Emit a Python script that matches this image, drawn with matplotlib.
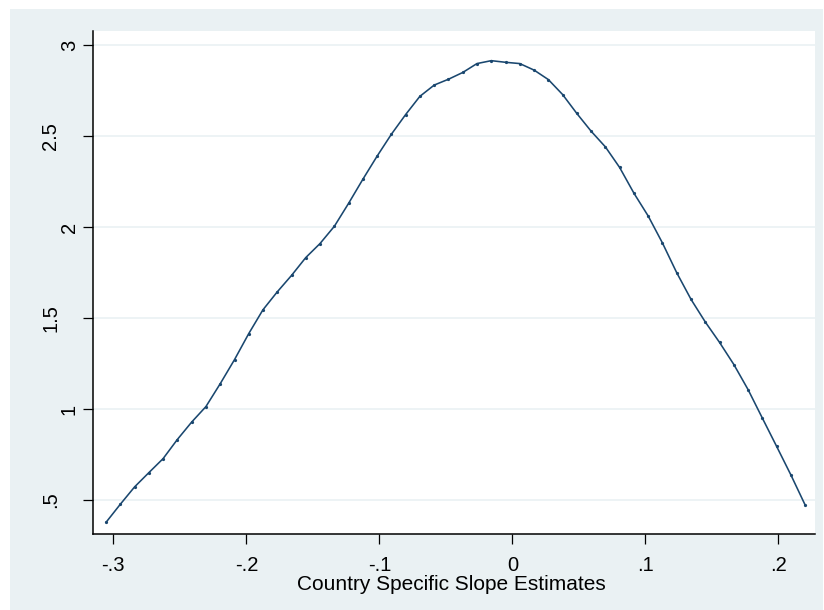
import matplotlib
matplotlib.use("Agg")
import matplotlib.pyplot as plt
from matplotlib.patches import Rectangle

# ---- data ----
slope = [-0.3055, -0.2948, -0.2840, -0.2733, -0.2626, -0.2519, -0.2411, -0.2304,
         -0.2197, -0.2089, -0.1982, -0.1875, -0.1768, -0.1660, -0.1553, -0.1446,
         -0.1338, -0.1231, -0.1124, -0.1017, -0.0909, -0.0802, -0.0695, -0.0587,
         -0.0480, -0.0373, -0.0266, -0.0158, -0.0051, 0.0056, 0.0164, 0.0271,
         0.0378, 0.0485, 0.0593, 0.0700, 0.0807, 0.0915, 0.1022, 0.1129,
         0.1236, 0.1344, 0.1451, 0.1558, 0.1666, 0.1773, 0.1880, 0.1987,
         0.2095, 0.2202]
density = [0.377, 0.476, 0.572, 0.650, 0.727, 0.832, 0.928, 1.013, 1.138, 1.271,
           1.414, 1.545, 1.643, 1.734, 1.832, 1.909, 2.004, 2.130, 2.262, 2.389,
           2.510, 2.618, 2.718, 2.780, 2.812, 2.849, 2.898, 2.914, 2.905, 2.898,
           2.862, 2.810, 2.728, 2.624, 2.526, 2.440, 2.327, 2.185, 2.060, 1.912,
           1.749, 1.602, 1.478, 1.366, 1.244, 1.106, 0.950, 0.795, 0.637, 0.472]
x_ticks = [-0.3, -0.2, -0.1, 0.0, 0.1, 0.2]
x_tick_labels = ["-.3", "-.2", "-.1", "0", ".1", ".2"]
y_ticks = [0.5, 1.0, 1.5, 2.0, 2.5, 3.0]
y_tick_labels = [".5", "1", "1.5", "2", "2.5", "3"]
x_title = "Country Specific Slope Estimates"

# ---- style ----
plt.rcParams["font.family"] = ["Liberation Sans", "DejaVu Sans"]
W, H = 824, 610
bg = "#EAF1F3"
navy = "#1A476F"

fig = plt.figure(figsize=(W / 100, H / 100), dpi=100, facecolor="white")
fig.add_artist(Rectangle((10 / W, 0), (823 - 10) / W, 1 - 9 / H,
                         transform=fig.transFigure, facecolor=bg,
                         edgecolor="none", zorder=0))

L, R, T, B = 93, 815, 31, 534
ax = fig.add_axes([L / W, 1 - B / H, (R - L) / W, (B - T) / H])
ax.set_facecolor("white")
ax.set_zorder(1)

ax.plot(slope, density, color=navy, lw=1.15, marker="o", ms=1.3,
        mec=navy, mfc=navy, zorder=3)

ax.set_xlim(-0.3153, 0.2276)
ax.set_ylim(0.3129, 3.077)

for s in ["top", "right"]:
    ax.spines[s].set_visible(False)
for s in ["left", "bottom"]:
    ax.spines[s].set_linewidth(1.1)
    ax.spines[s].set_color("black")

ax.set_yticks(y_ticks)
ax.yaxis.grid(True, color=bg, lw=1.2, zorder=0)
ax.set_axisbelow(True)
ax.tick_params(axis="y", length=7.2, width=0.9, color="black", labelleft=False)

ax.set_xticks(x_ticks, x_tick_labels)
ax.tick_params(axis="x", length=7, width=0.9, color="black", pad=8.6,
               labelsize=14.5, labelcolor="black")

# y tick labels: vertical, placed to match the reference
ytr = ax.get_yaxis_transform()
for v, lab in zip(y_ticks, y_tick_labels):
    px = 56 if "." in lab else 75
    ax.text((px - L) / (R - L), v, lab, transform=ytr, rotation=90,
            rotation_mode="anchor", ha="center", va="baseline",
            fontsize=14.5, color="black", clip_on=False)

ax.set_xlabel(x_title, fontsize=15, color="black")
ax.xaxis.set_label_coords((451.5 - L) / (R - L), -(575 - B) / (B - T))

fig.savefig("out.png", dpi=100, facecolor="white")
